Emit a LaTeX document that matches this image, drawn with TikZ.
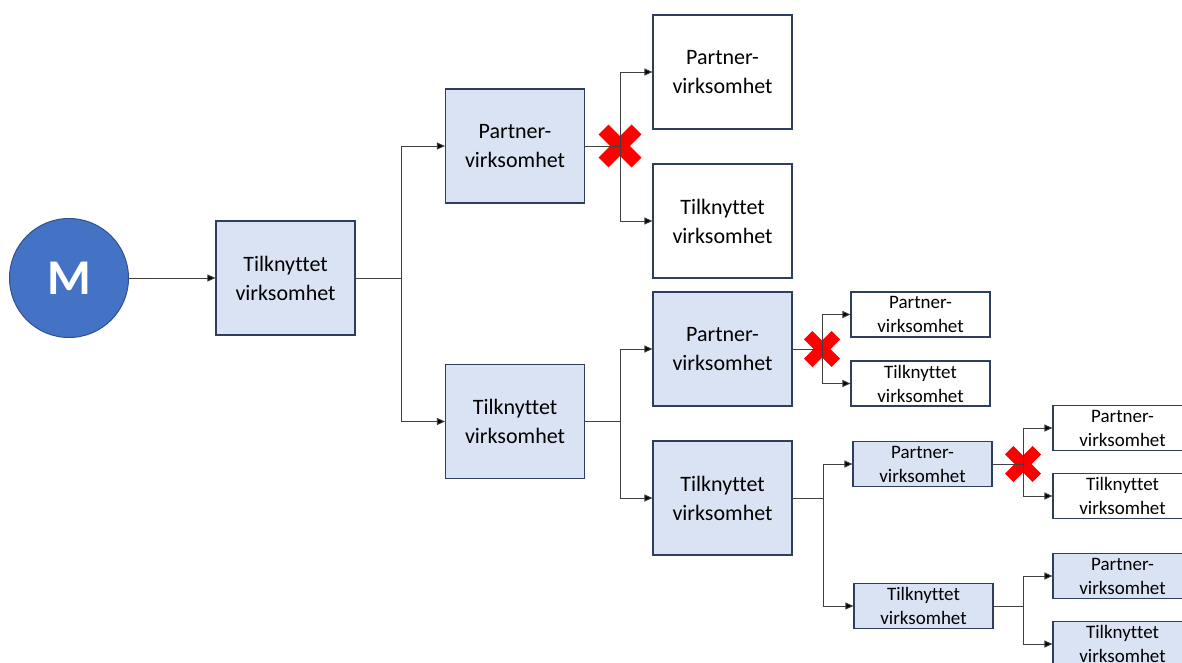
\documentclass[tikz,border=0pt]{standalone}
\usepackage{fontspec}
\setmainfont{Carlito}[Ligatures=NoCommon]
\usetikzlibrary{arrows.meta}
\definecolor{boxfill}{HTML}{DAE3F3}
\definecolor{boxline}{HTML}{2E3E5C}
\definecolor{mfill}{HTML}{4472C4}
\definecolor{mline}{HTML}{2F528F}
\definecolor{conncol}{HTML}{404040}
\definecolor{xred}{HTML}{FF0000}
\tikzset{
  bluebox/.style={draw=boxline, fill=boxfill, line width=1.1pt, inner sep=0pt, align=center},
  whitebox/.style={draw=boxline, fill=white, line width=1.1pt, inner sep=0pt, align=center},
  bigsz/.style={minimum width=139pt, minimum height=114pt, font=\fontsize{22}{29}\selectfont},
  smallsz/.style={minimum width=139pt, minimum height=45pt, font=\fontsize{19}{24}\selectfont},
  conn/.style={draw=conncol, line width=0.9pt},
  arr/.style={conn, -{Triangle[length=8pt, width=7pt, fill=black]}},
  xarm/.style={draw=xred, line cap=butt},
}
\newcommand{\redx}[4]{%
  \draw[xarm, line width=#4pt] (#1-#3,#2-#3) -- (#1+#3,#2+#3);
  \draw[xarm, line width=#4pt] (#1-#3,#2+#3) -- (#1+#3,#2-#3);}
\begin{document}
\begin{tikzpicture}[x=1pt, y=-1pt]
\useasboundingbox (0,0) rectangle (1182,662);
% M
\node[circle, draw=mline, fill=mfill, line width=1pt, minimum size=119pt, inner sep=0pt,
  text=white, font=\fontsize{50}{50}\selectfont\bfseries] (M) at (69,278) {M};
% level 1
\node[bluebox, bigsz] (T1) at (285.5,278) {Tilknyttet\\virksomhet};
% level 2
\node[bluebox, bigsz] (P2) at (515,146) {Partner-\\virksomhet};
\node[bluebox, bigsz] (T2) at (515,421.5) {Tilknyttet\\virksomhet};
% level 3
\node[whitebox, bigsz] (P3a) at (722.5,72) {Partner-\\virksomhet};
\node[whitebox, bigsz] (T3a) at (722.5,221) {Tilknyttet\\virksomhet};
\node[bluebox, bigsz] (P3b) at (722.5,349) {Partner-\\virksomhet};
\node[bluebox, bigsz] (T3b) at (722.5,498) {Tilknyttet\\virksomhet};
% level 4
\node[whitebox, smallsz] (P4a) at (920.5,314.5) {Partner-\\virksomhet};
\node[whitebox, smallsz] (T4a) at (920.5,383.5) {Tilknyttet\\virksomhet};
\node[bluebox, smallsz] (P4b) at (922.5,464) {Partner-\\virksomhet};
\node[bluebox, smallsz] (T4b) at (923.5,606) {Tilknyttet\\virksomhet};
% level 5
\node[whitebox, smallsz] (P5a) at (1122.5,428) {Partner-\\virksomhet};
\node[whitebox, smallsz] (T5a) at (1122.5,496) {Tilknyttet\\virksomhet};
\node[bluebox, smallsz] (P5b) at (1122.5,576) {Partner-\\virksomhet};
\node[bluebox, smallsz] (T5b) at (1122.5,644) {Tilknyttet\\virksomhet};
% red crosses
\redx{620}{146}{16.5}{14}
\redx{822}{349}{13.8}{12}
\redx{1023}{464}{13.8}{12}
% connectors
\draw[arr] (M.east) -- (T1.west);
\coordinate (j1) at (401,278);
\draw[conn] (T1.east) -- (j1);
\draw[arr] (j1) |- (P2.west);
\draw[arr] (j1) |- (T2.west);
\coordinate (j2) at (620,146);
\draw[conn] (P2.east) -- (j2);
\draw[arr] (j2) |- (P3a.west);
\draw[arr] (j2) |- (T3a.west);
\coordinate (j3) at (620,421.5);
\draw[conn] (T2.east) -- (j3);
\draw[arr] (j3) |- (P3b.west);
\draw[arr] (j3) |- (T3b.west);
\coordinate (j4) at (822,349);
\draw[conn] (P3b.east) -- (j4);
\draw[arr] (j4) |- (P4a.west);
\draw[arr] (j4) |- (T4a.west);
\coordinate (j5) at (823,498);
\draw[conn] (T3b.east) -- (j5);
\draw[arr] (j5) |- (P4b.west);
\draw[arr] (j5) |- (T4b.west);
\coordinate (j6) at (1023,464);
\draw[conn] (P4b.east) -- (j6);
\draw[arr] (j6) |- (P5a.west);
\draw[arr] (j6) |- (T5a.west);
\coordinate (j7) at (1023,606);
\draw[conn] (T4b.east) -- (j7);
\draw[arr] (j7) |- (P5b.west);
\draw[arr] (j7) |- (T5b.west);
\end{tikzpicture}
\end{document}
